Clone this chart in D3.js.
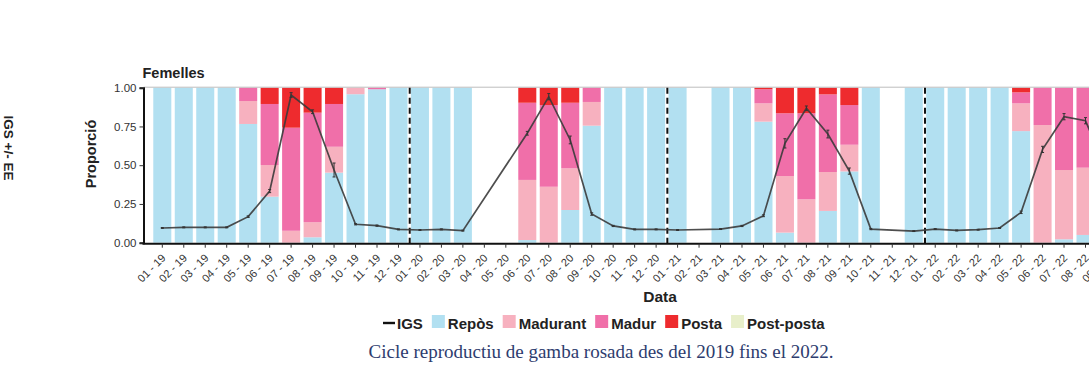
<!DOCTYPE html>
<html>
<head>
<meta charset="utf-8">
<script src="https://cdn.jsdelivr.net/npm/d3@7/dist/d3.min.js"></script>
<style>
  html, body { margin: 0; padding: 0; background: #fff; }
  svg { display: block; }
</style>
</head>
<body>
<svg id="chart" width="1089" height="367"></svg>
<script>
// Monthly sampling dates (month - year)
const months = [
  "01 - 19","02 - 19","03 - 19","04 - 19","05 - 19","06 - 19","07 - 19","08 - 19","09 - 19","10 - 19","11 - 19","12 - 19",
  "01 - 20","02 - 20","03 - 20","04 - 20","05 - 20","06 - 20","07 - 20","08 - 20","09 - 20","10 - 20","11 - 20","12 - 20",
  "01 - 21","02 - 21","03 - 21","04 - 21","05 - 21","06 - 21","07 - 21","08 - 21","09 - 21","10 - 21","11 - 21","12 - 21",
  "01 - 22","02 - 22","03 - 22","04 - 22","05 - 22","06 - 22","07 - 22","08 - 22","09 - 22"
];

// Proportion of females in each maturity stage (null = no sample)
const repos = [
  1, 1, 1, 1, 0.766, 0.297, 0, 0.035, 0.452, 0.958, 0.99, 1,
  1, 1, 1, null, null, 0.017, 0, 0.211, 0.755, 1, 1, 1,
  1, null, 1, 1, 0.781, 0.065, 0, 0.205, 0.46, 1, null, 1,
  1, 1, 1, 1, 0.72, 0, 0.022, 0.05, null
];
const madurant = [
  0, 0, 0, 0, 0.148, 0.204, 0.077, 0.097, 0.167, 0.042, 0, 0,
  0, 0, 0, null, null, 0.388, 0.361, 0.269, 0.153, 0, 0, 0,
  0, null, 0, 0, 0.118, 0.365, 0.28, 0.251, 0.172, 0, null, 0,
  0, 0, 0, 0, 0.179, 0.759, 0.447, 0.434, null
];
const madur = [
  0, 0, 0, 0, 0.086, 0.394, 0.665, 0.707, 0.276, 0, 0.01, 0,
  0, 0, 0, null, null, 0.498, 0.527, 0.423, 0.092, 0, 0, 0,
  0, null, 0, 0, 0.091, 0.405, 0.555, 0.501, 0.256, 0, null, 0,
  0, 0, 0, 0, 0.071, 0.241, 0.531, 0.516, null
];
const posta = [
  0, 0, 0, 0, 0, 0.105, 0.258, 0.161, 0.105, 0, 0, 0,
  0, 0, 0, null, null, 0.097, 0.112, 0.097, 0, 0, 0, 0,
  0, null, 0, 0, 0.01, 0.165, 0.165, 0.043, 0.112, 0, null, 0,
  0, 0, 0, 0, 0.03, 0, 0, 0, null
];
const postPosta = [
  0, 0, 0, 0, 0, 0, 0, 0, 0, 0, 0, 0,
  0, 0, 0, null, null, 0, 0, 0, 0, 0, 0, 0,
  0, null, 0, 0, 0, 0, 0, 0, 0, 0, null, 0,
  0, 0, 0, 0, 0, 0, 0, 0, null
];

// Gonadosomatic index (IGS) and its standard error (EE)
const igs = [
  0.095, 0.099, 0.099, 0.099, 0.168, 0.333, 0.953, 0.845, 0.469, 0.119, 0.11, 0.086,
  0.082, 0.086, 0.078, null, null, 0.706, 0.942, 0.663, 0.185, 0.108, 0.086, 0.086,
  0.082, null, 0.088, 0.108, 0.174, 0.641, 0.867, 0.701, 0.462, 0.088, null, 0.075,
  0.088, 0.079, 0.084, 0.095, 0.196, 0.602, 0.813, 0.787, 0.46
];
const ee = [
  0.003, 0.003, 0.003, 0.003, 0.005, 0.01, 0.015, 0.012, 0.045, 0.004, 0.004, 0.003,
  0.003, 0.003, 0.003, null, null, 0.012, 0.02, 0.025, 0.008, 0.004, 0.003, 0.003,
  0.003, null, 0.003, 0.004, 0.006, 0.03, 0.015, 0.025, 0.02, 0.004, null, 0.003,
  0.003, 0.003, 0.003, 0.003, 0.008, 0.02, 0.02, 0.02, 0.02
];

// Year boundaries marked with dashed lines (between December and January)
const yearBreaks = ["12 - 19", "12 - 20", "12 - 21"];

const yTicks = [0, 0.25, 0.5, 0.75, 1];

const stages = [
  { key: "Repòs",      values: repos,     color: "#b2e0f1" },
  { key: "Madurant",   values: madurant,  color: "#f7b1bf" },
  { key: "Madur",      values: madur,     color: "#f06fa9" },
  { key: "Posta",      values: posta,     color: "#ee2b2e" },
  { key: "Post-posta", values: postPosta, color: "#e8efca" }
];

const svg = d3.select("#chart");
const FONT = "'Liberation Sans', Arial, sans-serif";

// Layout
const plotLeft = 143.5;
const plotTop = 87.7;
const plotBottom = 242.7;
const step = 21.47;
const firstCenter = 162.3;

const x = d3.scaleBand()
  .domain(months)
  .range([firstCenter - step / 2, firstCenter - step / 2 + step * months.length])
  .paddingInner(0.16)
  .paddingOuter(0.08);

const y = d3.scaleLinear().domain([0, 1]).range([plotBottom, plotTop]);

// Table rows for stacking
const rows = months.map((m, i) => {
  const r = { month: m, has: repos[i] != null };
  stages.forEach(s => { r[s.key] = s.values[i] == null ? 0 : s.values[i]; });
  return r;
});

const stack = d3.stack().keys(stages.map(s => s.key));
const series = stack(rows);

// Stacked proportion bars
const gBars = svg.append("g");
series.forEach((ser, si) => {
  gBars.selectAll(null)
    .data(ser.filter(d => d.data.has && d[1] - d[0] > 0))
    .join("rect")
    .attr("x", d => x(d.data.month))
    .attr("width", x.bandwidth())
    .attr("y", d => y(d[1]))
    .attr("height", d => y(d[0]) - y(d[1]))
    .attr("fill", stages[si].color);
});

// Thin top border of the panel
svg.append("line")
  .attr("x1", plotLeft).attr("x2", 1089)
  .attr("y1", plotTop - 0.5).attr("y2", plotTop - 0.5)
  .attr("stroke", "#bdbdbd").attr("stroke-width", 1);

// Dashed year separators
svg.append("g").selectAll("line")
  .data(yearBreaks)
  .join("line")
  .attr("x1", d => x(d) + x.step() - (x.step() - x.bandwidth()) / 2 + 0.5)
  .attr("x2", d => x(d) + x.step() - (x.step() - x.bandwidth()) / 2 + 0.5)
  .attr("y1", plotTop)
  .attr("y2", plotBottom + 3)
  .attr("stroke", "#111")
  .attr("stroke-width", 2)
  .attr("stroke-dasharray", "6,4");

// IGS line with error bars
const pts = months.map((m, i) => ({ m, v: igs[i], e: ee[i] })).filter(d => d.v != null);
const cx = d => x(d.m) + x.bandwidth() / 2;

svg.append("path")
  .datum(pts)
  .attr("fill", "none")
  .attr("stroke", "#3b3b3b")
  .attr("stroke-opacity", 0.9)
  .attr("stroke-width", 1.7)
  .attr("d", d3.line().x(cx).y(d => y(d.v)));

const gErr = svg.append("g").attr("stroke", "#333").attr("stroke-width", 1);
pts.forEach(d => {
  gErr.append("line")
    .attr("x1", cx(d)).attr("x2", cx(d))
    .attr("y1", y(d.v - d.e)).attr("y2", y(d.v + d.e));
  gErr.append("line")
    .attr("x1", cx(d) - 1.5).attr("x2", cx(d) + 1.5)
    .attr("y1", y(d.v + d.e)).attr("y2", y(d.v + d.e));
  gErr.append("line")
    .attr("x1", cx(d) - 1.5).attr("x2", cx(d) + 1.5)
    .attr("y1", y(d.v - d.e)).attr("y2", y(d.v - d.e));
});

// Y axis
const yAxis = svg.append("g")
  .attr("transform", `translate(${plotLeft},0)`)
  .call(d3.axisLeft(y).tickValues(yTicks).tickFormat(d3.format(".2f")).tickSize(4).tickPadding(3));
yAxis.select(".domain").attr("stroke", "#111").attr("stroke-width", 2);
yAxis.selectAll(".tick line").attr("stroke", "#333");
yAxis.selectAll("text").attr("font-family", FONT).attr("font-size", 11.5).attr("fill", "#333");

// X axis
const xAxis = svg.append("g")
  .attr("transform", `translate(0,${plotBottom + 1})`)
  .call(d3.axisBottom(x).tickSize(4).tickSizeOuter(0));
xAxis.select(".domain").attr("stroke", "#111").attr("stroke-width", 2)
  .attr("d", `M${plotLeft - 1},0H1089`);
xAxis.selectAll(".tick line").attr("stroke", "#333");
xAxis.selectAll("text")
  .attr("font-family", FONT).attr("font-size", 11).attr("fill", "#333")
  .attr("text-anchor", "end")
  .attr("x", 0).attr("y", 0).attr("dy", 0)
  .attr("transform", "translate(4,15) rotate(-45)");

// Titles
svg.append("text")
  .attr("x", plotLeft - 1).attr("y", 78)
  .attr("font-family", FONT).attr("font-weight", "bold").attr("font-size", 14.5)
  .attr("fill", "#222")
  .text("Femelles");

svg.append("text")
  .attr("transform", "translate(96,154) rotate(-90)")
  .attr("text-anchor", "middle")
  .attr("font-family", FONT).attr("font-weight", "bold").attr("font-size", 14.5)
  .attr("fill", "#222")
  .text("Proporció");

svg.append("text")
  .attr("transform", "translate(4,148) rotate(90)")
  .attr("text-anchor", "middle")
  .attr("font-family", FONT).attr("font-weight", "bold").attr("font-size", 13.5)
  .attr("fill", "#222")
  .text("IGS +/- EE");

svg.append("text")
  .attr("x", 660).attr("y", 302)
  .attr("text-anchor", "middle")
  .attr("font-family", FONT).attr("font-weight", "bold").attr("font-size", 15.5)
  .attr("fill", "#222")
  .text("Data");

// Legend
const legend = svg.append("g").attr("font-family", FONT).attr("font-weight", "bold")
  .attr("font-size", 15).attr("fill", "#222");
let lx = 383;
const ly = 329;
legend.append("line")
  .attr("x1", lx).attr("x2", lx + 12).attr("y1", ly - 6).attr("y2", ly - 6)
  .attr("stroke", "#111").attr("stroke-width", 2.4);
const igsText = legend.append("text").attr("x", lx + 14).attr("y", ly).text("IGS");
lx += 14 + igsText.node().getComputedTextLength() + 9;
stages.forEach(s => {
  legend.append("rect")
    .attr("x", lx).attr("y", ly - 14).attr("width", 13).attr("height", 13)
    .attr("fill", s.color);
  const t = legend.append("text").attr("x", lx + 16).attr("y", ly).text(s.key);
  lx += 16 + t.node().getComputedTextLength() + 9;
});

// Caption
svg.append("text")
  .attr("x", 601).attr("y", 358)
  .attr("text-anchor", "middle")
  .attr("font-family", "'Liberation Serif', 'Times New Roman', serif")
  .attr("font-size", 19)
  .attr("fill", "#2d3c6e")
  .text("Cicle reproductiu de gamba rosada des del 2019 fins el 2022.");
</script>
</body>
</html>
